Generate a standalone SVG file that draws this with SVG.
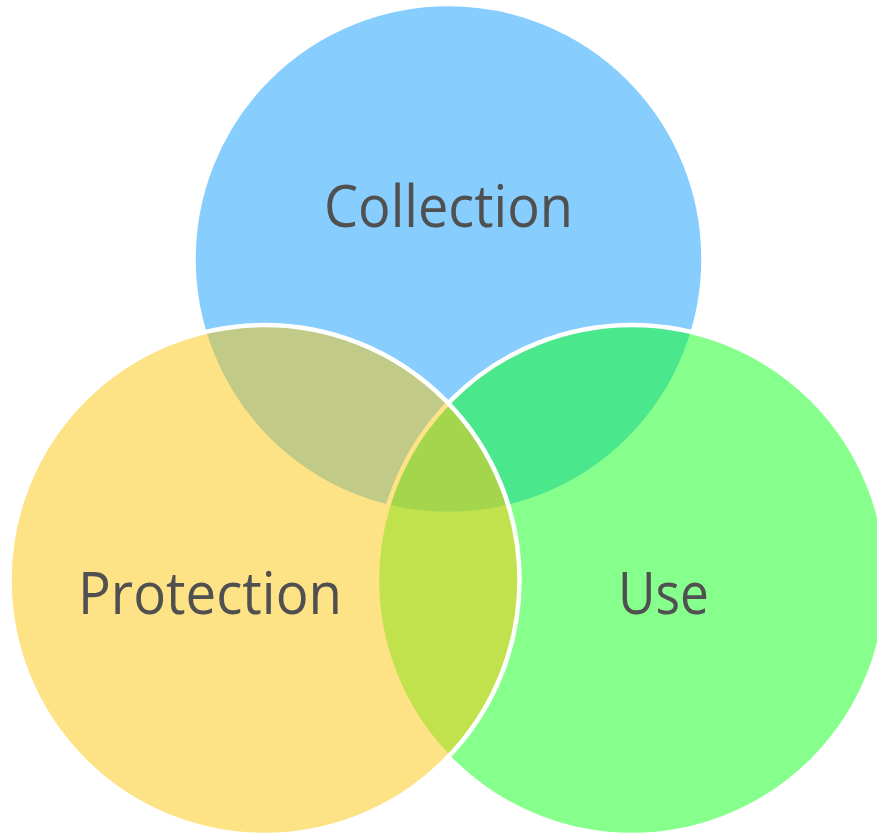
<svg xmlns="http://www.w3.org/2000/svg" width="877" height="833" viewBox="0 0 877 833">
<style>
.c{fill-opacity:0.5;stroke:#ffffff;stroke-width:4.5}
.t{font-family:"Open Sans","Noto Sans",sans-serif;font-size:58px;fill:#505050;text-anchor:middle}
</style>
<rect width="877" height="833" fill="#ffffff"/>
<g id="collection">
<circle class="c" cx="448.5" cy="259" r="255" fill="#0F9DFF"/>
</g>
<g id="use">
<circle class="c" cx="632" cy="580" r="255" fill="#0FFF19"/>
</g>
<g id="protection">
<circle class="c" cx="264.5" cy="580" r="255" fill="#FBC50D"/>
</g>
<g id="labels">
<text class="t" x="448.5" y="227" textLength="249" lengthAdjust="spacingAndGlyphs">Collection</text>
<text class="t" x="210" y="614" textLength="264" lengthAdjust="spacingAndGlyphs">Protection</text>
<text class="t" x="663.5" y="614" textLength="91" lengthAdjust="spacingAndGlyphs">Use</text>
</g>
<g id="connectors"/>
</svg>
